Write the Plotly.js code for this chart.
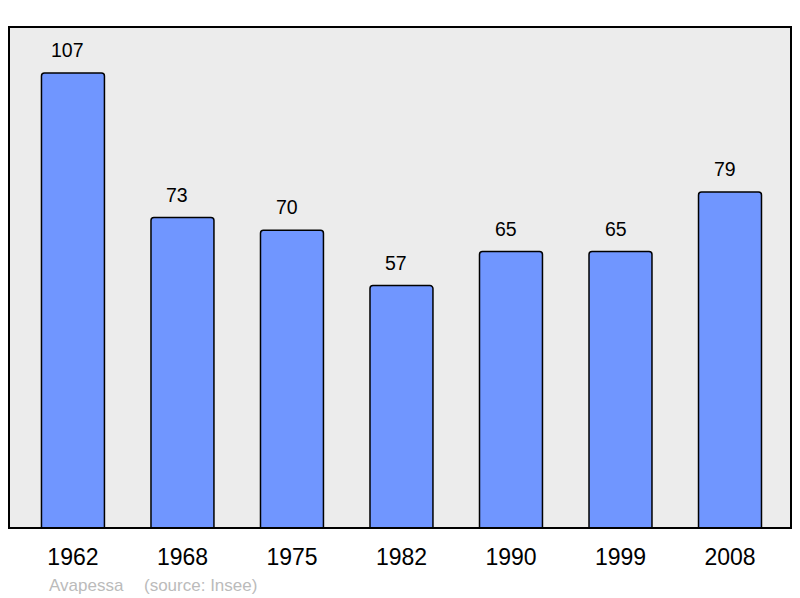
<!DOCTYPE html>
<html>
<head>
<meta charset="utf-8">
<script src="https://cdn.plot.ly/plotly-3.0.1.min.js"></script>
<style>html,body{margin:0;padding:0;background:#fff;}#chart{width:800px;height:598px;}</style>
</head>
<body>
<div id="chart"></div>
<script>
const years = ["1962", "1968", "1975", "1982", "1990", "1999", "2008"];
const population = [107, 73, 70, 57, 65, 65, 79];
const footerName = "Avapessa";
const footerSource = "(source: Insee)";

const trace = {
  type: "bar",
  x: years,
  y: population,
  width: 0.575,
  marker: {color: "#7096ff", line: {color: "#000", width: 1.5}, cornerradius: 3},
  hoverinfo: "none"
};

const labelAnns = years.map((yr, i) => ({
  x: i, y: population[i], xref: "x", yref: "y",
  text: String(population[i]), showarrow: false,
  yanchor: "bottom", yshift: 10, xshift: -5,
  font: {family: "Liberation Sans, Arial, sans-serif", size: 19.5, color: "#000"}
}));

const layout = {
  width: 800, height: 598,
  margin: {l: 9, r: 9, t: 27, b: 70, pad: 0},
  paper_bgcolor: "#fff",
  plot_bgcolor: "#ececec",
  showlegend: false,
  font: {family: "Liberation Sans, Arial, sans-serif"},
  xaxis: {
    type: "category", range: [-0.584, 6.557], showgrid: false, zeroline: false,
    showline: false, ticks: "outside", ticklen: 8, tickcolor: "rgba(0,0,0,0)",
    tickfont: {size: 23, color: "#000"}, fixedrange: true
  },
  yaxis: {
    range: [0, 117.8], showgrid: false, zeroline: false, showline: false,
    showticklabels: false, ticks: "", fixedrange: true
  },
  shapes: [{
    type: "rect", xref: "paper", yref: "paper", x0: 0, x1: 1, y0: 0, y1: 1,
    line: {color: "#000", width: 2}, fillcolor: "rgba(0,0,0,0)", layer: "above"
  }],
  annotations: labelAnns.concat([
    {xref: "paper", yref: "paper", x: 0.048, y: -0.114, xanchor: "left", yanchor: "middle",
     text: footerName, showarrow: false, font: {size: 17, color: "#bbbbbb"}},
    {xref: "paper", yref: "paper", x: 0.170, y: -0.114, xanchor: "left", yanchor: "middle",
     text: footerSource, showarrow: false, font: {size: 17, color: "#bbbbbb"}}
  ])
};

Plotly.newPlot("chart", [trace], layout, {displayModeBar: false, staticPlot: true});
</script>
</body>
</html>
